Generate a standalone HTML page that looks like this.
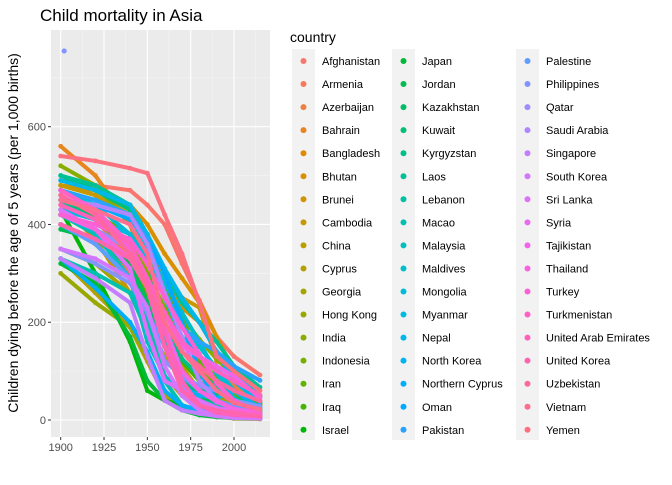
<!DOCTYPE html>
<html><head><meta charset="utf-8"><style>
body{margin:0;background:#fff;font-family:"Liberation Sans",sans-serif}
svg text{font-family:"Liberation Sans",sans-serif}
</style></head><body>
<svg id="chart" width="672" height="480" xmlns="http://www.w3.org/2000/svg"></svg>
<script>
const years=[1900,1920,1940,1950,1960,1970,1980,1990,2000,2015];
const countries=["Afghanistan","Armenia","Azerbaijan","Bahrain","Bangladesh","Bhutan","Brunei","Cambodia","China","Cyprus","Georgia","Hong Kong","India","Indonesia","Iran","Iraq","Israel","Japan","Jordan","Kazakhstan","Kuwait","Kyrgyzstan","Laos","Lebanon","Macao","Malaysia","Maldives","Mongolia","Myanmar","Nepal","North Korea","Northern Cyprus","Oman","Pakistan","Palestine","Philippines","Qatar","Saudi Arabia","Singapore","South Korea","Sri Lanka","Syria","Tajikistan","Thailand","Turkey","Turkmenistan","United Arab Emirates","United Korea","Uzbekistan","Vietnam","Yemen"];
const values=[
[490,480,470,440,400,320,245,170,130,92],
[420,380,300,230,150,90,65,50,30,14],
[460,410,330,260,180,120,95,95,70,30],
[560,500,400,300,200,100,45,22,12,8],
[480,460,420,360,290,230,200,140,85,38],
[480,470,440,400,340,290,240,170,100,33],
[440,370,260,180,90,50,20,12,10,10],
[480,460,420,380,300,250,230,120,110,30],
[420,380,320,250,200,110,60,50,35,11],
[330,260,190,120,50,30,20,12,8,3],
[350,320,260,190,130,85,60,45,35,12],
[300,240,190,130,60,25,12,8,3,2],
[520,480,400,330,250,210,165,125,90,48],
[450,420,360,300,230,170,125,85,50,27],
[450,420,380,330,270,210,120,60,40,16],
[400,370,320,260,180,120,80,50,45,32],
[430,300,160,60,40,30,15,12,7,4],
[320,280,170,80,40,20,10,6,4,3],
[390,370,320,240,160,90,50,35,25,18],
[420,380,310,240,150,90,60,55,40,14],
[500,470,430,340,180,80,40,20,12,9],
[450,410,350,280,200,125,90,70,45,21],
[500,480,440,380,300,240,200,160,110,67],
[400,360,290,200,90,55,40,30,20,8],
[330,300,260,180,80,30,15,8,5,3],
[420,380,290,160,90,55,30,17,10,7],
[470,450,420,350,280,220,160,95,45,9],
[470,440,380,320,260,190,150,105,60,22],
[430,410,380,330,250,170,130,110,90,50],
[490,470,440,380,310,250,200,140,80,36],
[420,390,350,290,180,70,50,45,60,25],
[330,270,200,140,60,30,20,12,8,5],
[450,440,410,370,300,200,100,40,20,10],
[470,450,420,370,260,190,160,140,110,81],
[400,360,290,220,150,90,60,40,28,21],
[350,320,280,220,120,90,70,60,40,28],
[420,390,350,270,150,70,35,20,12,8],
[450,440,420,360,260,170,80,40,20,15],
[330,290,240,130,40,20,13,8,4,3],
[350,330,290,230,110,50,20,8,6,3],
[430,390,310,180,80,60,40,25,17,10],
[400,370,330,270,190,100,60,37,23,13],
[470,430,350,280,220,150,130,110,90,45],
[420,390,330,270,150,100,60,40,22,12],
[420,400,370,320,250,190,135,75,40,14],
[470,430,360,290,220,160,130,100,80,51],
[440,410,360,280,180,80,30,15,10,7],
[400,370,330,270,150,60,30,20,15,8],
[460,420,340,270,200,140,110,80,60,39],
[450,430,400,340,200,140,100,60,35,22],
[540,530,515,505,420,340,240,130,100,60]];
const outlierCountry=["Philippines"];
const outlierYear=[1902];
const outlierValue=[755];
const xTicks=[1900,1925,1950,1975,2000];
const yTicks=[0,200,400,600];

const NS="http://www.w3.org/2000/svg";
const svg=document.getElementById('chart');
function el(t,a,p){const e=document.createElementNS(NS,t);for(const k in a)e.setAttribute(k,a[k]);(p||svg).appendChild(e);return e;}
const PL=51,PR=270,PT=30,PB=437;
const x=v=>60.7+(v-1900)*(234-60.7)/100;
const y=v=>420-v*(420-126.7)/600;
function hcl(h){const L=65,C=100;const Xn=95.047,Yn=100,Zn=108.883;const d=Xn+15*Yn+3*Zn;const un=4*Xn/d,vn=9*Yn/d;
const Y=Yn*Math.pow((L+16)/116,3);const u=C*Math.cos(h*Math.PI/180),v=C*Math.sin(h*Math.PI/180);
const up=u/(13*L)+un,vp=v/(13*L)+vn;const X=Y*9*up/(4*vp),Z=Y*(12-3*up-20*vp)/(4*vp);
const xr=X/100,yr=Y/100,zr=Z/100;
let r=3.2406*xr-1.5372*yr-0.4986*zr,g=-0.9689*xr+1.8758*yr+0.0415*zr,b=0.0557*xr-0.2040*yr+1.0570*zr;
const gm=c=>{c=c<=0.0031308?12.92*c:1.055*Math.pow(c,1/2.4)-0.055;return Math.round(Math.max(0,Math.min(1,c))*255)};
return `rgb(${gm(r)},${gm(g)},${gm(b)})`;}
const colors=countries.map((c,i)=>hcl(15+i*360/51));

let t=el('text',{x:40,y:21,'font-size':17,fill:'#000'});t.textContent='Child mortality in Asia';


let p=el('rect',{x:PL,y:PT,width:PR-PL,height:PB-PT,fill:'#ebebeb'});


for(let v=100;v<=700;v+=200)el('line',{x1:PL,x2:PR,y1:y(v),y2:y(v),stroke:'#f5f5f5','stroke-width':0.6});
for(let v=1912.5;v<2020;v+=25)el('line',{x1:x(v),x2:x(v),y1:PT,y2:PB,stroke:'#f5f5f5','stroke-width':0.6});
yTicks.forEach(v=>{el('line',{x1:PL,x2:PR,y1:y(v),y2:y(v),stroke:'#fff','stroke-width':1.1});
el('line',{x1:PL-3,x2:PL,y1:y(v),y2:y(v),stroke:'#333','stroke-width':1});
const tt=el('text',{x:PL-5,y:y(v)+4,'font-size':11,fill:'#4d4d4d','text-anchor':'end'});tt.textContent=v;

});
xTicks.forEach(v=>{el('line',{x1:x(v),x2:x(v),y1:PT,y2:PB,stroke:'#fff','stroke-width':1.1});
el('line',{x1:x(v),x2:x(v),y1:PB,y2:PB+3,stroke:'#333','stroke-width':1});
const tt=el('text',{x:x(v),y:PB+14,'font-size':11,fill:'#4d4d4d','text-anchor':'middle'});tt.textContent=v;

});
let yt=el('text',{x:0,y:0,'font-size':14,fill:'#000','text-anchor':'middle',transform:'translate(18,233) rotate(-90)'});
yt.textContent='Children dying before the age of 5 years (per 1,000 births)';



const gS=el('g',{});
countries.forEach((c,i)=>{
const g=el('g',{},gS);


const d=values[i].map((v,j)=>(j?'L':'M')+x(years[j])+','+y(v)).join(' ');
el('path',{d:d,fill:'none',stroke:colors[i],'stroke-width':4,'stroke-linecap':'round','stroke-linejoin':'round'},g);
values[i].forEach((v,j)=>el('circle',{cx:x(years[j]),cy:y(v),r:2.4,fill:colors[i]},g));
});
outlierCountry.forEach((c,k)=>{const o=el('circle',{cx:x(outlierYear[k]),cy:y(outlierValue[k]),r:2.6,fill:colors[countries.indexOf(c)]});

});

let lt=el('text',{x:290,y:42,'font-size':14,fill:'#000'});lt.textContent='country';


const colX=[292,392,516];
colX.forEach(cx=>el('rect',{x:cx,y:49,width:23,height:391,fill:'#f2f2f2'}));
countries.forEach((c,i)=>{const col=Math.floor(i/17),row=i%17;const cx=colX[col],cy=61+row*23.05;
const g=el('g',{});


el('circle',{cx:cx+11.5,cy:cy,r:3,fill:colors[i]},g);
const tx=el('text',{x:cx+30,y:cy+4,'font-size':11,fill:'#000'},g);tx.textContent=c;});
</script>
</body></html>
